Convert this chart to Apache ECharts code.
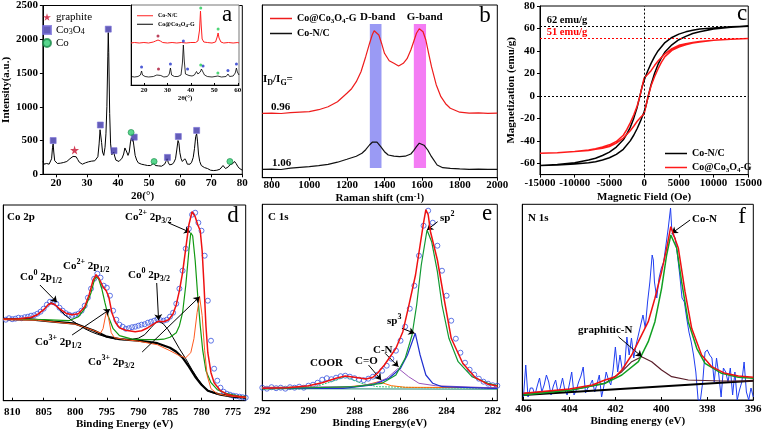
<!DOCTYPE html>
<html><head><meta charset="utf-8">
<script src="https://cdn.jsdelivr.net/npm/echarts@6/dist/echarts.min.js"></script>
<style>html,body{margin:0;padding:0;background:#fff}#c{width:765px;height:432px}</style>
</head><body><div id="c"></div>
<script>
// ---------- DATA ----------
// (a) XRD main
const xrdMain = [[15.8,190],[16.2,150],[16.6,175],[17.0,160],[17.4,185],[17.8,150],[18.2,170],[18.6,230],[18.9,400],[19.1,450],[19.3,330],[19.6,200],[20.0,180],[20.5,160],[21.0,185],[21.5,165],[22.0,190],[22.5,175],[23.0,200],[23.5,190],[24.0,215],[24.5,230],[25.0,245],[25.5,265],[26.0,285],[26.5,260],[27.0,220],[27.5,180],[28.0,160],[28.5,150],[29.0,165],[29.5,170],[30.0,175],[30.5,185],[31.0,180],[31.5,195],[32.0,190],[32.5,200],[33.0,215],[33.5,260],[33.9,450],[34.2,660],[34.4,670],[34.7,470],[35.0,330],[35.4,280],[35.8,400],[36.1,600],[36.4,1000],[36.7,1750],[36.85,2100],[37.0,1800],[37.3,900],[37.6,450],[38.0,290],[38.3,300],[38.6,330],[38.9,270],[39.3,210],[39.8,200],[40.3,190],[40.8,210],[41.3,240],[41.8,300],[42.2,390],[42.5,410],[42.8,330],[43.2,280],[43.6,330],[44.0,480],[44.3,540],[44.6,490],[44.8,520],[45.1,420],[45.5,280],[46.0,210],[46.5,170],[47.0,160],[47.5,150],[48.0,155],[48.5,140],[49.0,145],[49.5,130],[50.0,140],[50.5,130],[51.0,150],[51.5,165],[52.0,130],[52.5,120],[53.0,125],[53.5,115],[54.0,120],[54.5,140],[55.0,150],[55.4,190],[55.8,230],[56.2,170],[56.6,140],[57.0,135],[57.5,150],[58.0,180],[58.5,230],[58.9,360],[59.3,500],[59.6,460],[59.9,320],[60.3,230],[60.7,190],[61.1,180],[61.5,230],[61.9,200],[62.3,150],[62.7,140],[63.2,150],[63.7,180],[64.2,250],[64.6,380],[65.0,560],[65.3,600],[65.6,480],[65.9,300],[66.3,190],[66.8,130],[67.3,110],[67.8,100],[68.3,90],[68.8,85],[69.3,75],[69.8,60],[70.3,70],[70.8,55],[71.3,65],[71.8,60],[72.3,80],[72.8,75],[73.3,100],[73.8,130],[74.2,110],[74.6,85],[75.0,90],[75.5,110],[76.0,140],[76.5,120],[77.0,160],[77.5,190],[78.0,160],[78.5,120],[79.0,90],[79.5,70],[80.0,60]];
const markGraphite = [[26.0,360]];
const markCo3O4 = [[19.1,500],[34.3,730],[36.85,2150],[38.7,350],[45.2,550],[55.9,250],[59.4,560],[65.3,650]];
const markCo = [[44.2,620],[51.6,190],[76.0,190]];
const xrdTicksX = [20,30,40,50,60,70,80];
// (a) inset
const insetRed = [[14.5,42],[16,42.5],[18,42],[20,42.5],[22,42],[24,43],[25,44],[26,45],[27,44],[28,42.5],[30,42],[32,42.5],[34,42],[36,42.5],[38,42],[40,42.5],[42,42.5],[43,44],[43.7,55],[44.1,74],[44.4,60],[44.8,46],[45.5,43],[47,42.5],[49,42],[50.5,43],[51.2,48],[51.6,52],[52,47],[52.8,43],[54,42],[56,42.5],[58,42],[60,42.5],[60.5,42]];
const insetBlack = [[14.5,8.5],[16,8],[17.5,8.5],[18.5,10],[19,14],[19.4,10],[20.5,8.5],[22,8],[24,8.5],[25.5,10],[26.3,12],[27.2,9.5],[28.5,8],[30,8.5],[30.8,11],[31.3,17],[31.8,10],[33,8.5],[34.5,8.5],[35.8,10],[36.4,22],[36.8,40],[37.2,24],[37.7,11],[38.5,12],[39.2,9.5],[40.5,9],[41.5,10],[42.4,13.5],[43,11],[44,13],[44.5,16],[45.1,15],[45.8,10],[47,8.5],[49,8],[51.5,9],[53,8],[55,8.5],[55.8,11],[56.5,8.5],[58,9],[58.9,12],[59.4,17],[59.8,13],[60.5,10]];
const insetMarkBlue = [[19,18],[31.3,21],[36.8,44],[38.6,16],[45.2,19],[55.8,14.5],[59.4,21]];
const insetMarkRed = [[26,49],[26.2,16]];
const insetMarkGreen = [[44.2,77],[51.6,56],[44.2,20],[51.5,12]];
const insetTicksX = [20,30,40,50,60];
// (b) Raman
const ramanRed = [[750,64.4],[800,64.6],[850,64.2],[900,65],[950,65.5],[1000,66],[1050,68],[1100,71],[1150,76],[1200,84.4],[1225,89],[1250,96],[1275,106],[1300,121],[1320,134],[1335,143],[1345,147],[1355,146],[1370,142.7],[1385,134],[1400,124.4],[1425,117],[1450,114.4],[1475,111.7],[1500,114.4],[1520,119],[1540,127.7],[1555,136],[1570,144.4],[1585,149],[1595,149.4],[1605,146],[1620,137.7],[1635,124],[1650,111],[1675,93],[1700,81],[1725,74],[1750,69.4],[1800,65.5],[1850,64.5],[1900,64.8],[1950,64.4],[2000,64.6]];
const ramanBlack = [[750,8.4],[800,8.6],[850,8.2],[900,9.5],[950,10.3],[1000,11],[1050,12],[1100,13.4],[1150,15.5],[1200,18.4],[1250,21.5],[1280,24.4],[1300,28],[1320,32.7],[1335,35.5],[1345,36.7],[1360,35.5],[1380,31],[1400,26],[1420,22.7],[1450,21.5],[1480,21],[1510,21.5],[1540,23.7],[1555,27],[1570,31],[1585,34.5],[1595,35],[1610,32.5],[1630,27.7],[1650,21],[1680,12.7],[1710,10],[1750,9.4],[1800,8.8],[1850,8.4],[1900,8.6],[1950,8.3],[2000,8.4]];
const dBand = [1322,1384];
const gBand = [1556,1621];
const bandY = [9.7,153.7];
const ramanTicksX = [800,1000,1200,1400,1600,1800,2000];
// (c) magnetisation loops
const loopBlack = [[15000,62],[12500,61.5],[10000,60.5],[8000,59.5],[7000,58.5],[6000,57],[5000,55],[4000,52],[3000,47.5],[2000,40],[1500,35],[1000,29],[500,22],[0,14],[-300,8],[-600,0],[-1000,-10],[-1500,-20],[-2000,-28],[-2500,-34],[-3000,-39],[-4000,-45.5],[-5000,-50],[-6000,-53],[-7000,-55.5],[-8000,-57],[-10000,-59.5],[-12500,-61],[-15000,-62],
 [-12500,-61.5],[-10000,-60.5],[-8000,-59.5],[-7000,-58.5],[-6000,-57],[-5000,-55],[-4000,-52],[-3000,-47.5],[-2000,-40],[-1500,-35],[-1000,-29],[-500,-22],[0,-14],[300,-8],[600,0],[1000,10],[1500,20],[2000,28],[2500,34],[3000,39],[4000,45.5],[5000,50],[6000,53],[7000,55.5],[8000,57],[10000,59.5],[12500,61],[15000,62]];
const loopRed = [[15000,51],[12500,50.5],[10000,49.5],[8000,48.5],[7000,47.5],[6000,46.5],[5000,45],[4000,42],[3000,37.5],[2000,31],[1500,27],[1000,22.5],[500,19],[0,16],[-300,8],[-600,0],[-1000,-9],[-1500,-17],[-2000,-24],[-2500,-30],[-3000,-35],[-4000,-40.5],[-5000,-43.5],[-6000,-45.5],[-7000,-47],[-8000,-48],[-10000,-49.5],[-12500,-50.5],[-15000,-51],
 [-12500,-50.5],[-10000,-49.5],[-8000,-48.5],[-7000,-47.5],[-6000,-46.5],[-5000,-45],[-4000,-42],[-3000,-37.5],[-2000,-31],[-1500,-27],[-1000,-22.5],[-500,-19],[0,-16],[300,-8],[600,0],[1000,9],[1500,17],[2000,24],[2500,30],[3000,35],[4000,40.5],[5000,43.5],[6000,45.5],[7000,47],[8000,48],[10000,49.5],[12500,50.5],[15000,51]];
const msBlack = 62, msRed = 51;
const magTicksY = [-60,-40,-20,0,20,40,60,80];
// (d) Co 2p
const coData = [[811.5,82],[811,81],[810.5,82.5],[810,81.5],[809.5,82],[809,83],[808.5,82.5],[808,83.5],[807.5,84],[807,85],[806.5,85.5],[806,87],[805.5,89],[805,92],[804.5,96],[804,99],[803.5,98.5],[803,97],[802.5,93],[802,90],[801.5,87.5],[801,86],[800.5,85],[800,86],[799.5,87],[799,90],[798.5,95],[798,103],[797.5,112],[797,122],[796.5,127],[796,123],[795.5,115],[795,113],[794.5,105],[794,90],[793.5,81],[793,76],[792.5,74],[792,72],[791.5,72.5],[791,73.5],[790.5,74],[790,75],[789.5,76],[789,76.5],[788.5,78],[788,79],[787.5,80],[787,81.5],[786.5,80.5],[786,80],[785.5,81],[785,84],[784.5,88],[784,97],[783.5,112],[783,130],[782.5,152],[782,172],[781.5,186],[781,188],[780.5,178],[780,170],[779.5,145],[779,100],[778.5,60],[778,32],[777.5,20],[777,13],[776.5,9],[776,7],[775.5,6],[775,5],[774.5,4.5],[774,4],[773.5,3.5],[773,3]];
const coFit = [[811.4,81.7],[809,82],[807,83.5],[806,86],[805,91],[804.3,96],[803.8,97.5],[803.2,96],[802.5,92],[801.5,87.5],[800.5,86],[799.5,87],[798.5,94],[797.8,106],[797.2,120],[796.7,126],[796.2,122],[795.6,114],[795.1,110],[794.7,104],[794.2,88],[793.6,78],[793,73],[792,70.5],[790.5,69],[789.5,70],[788.5,73],[787.5,77],[786.8,79.5],[786,79],[785.2,81],[784.5,87],[784,96],[783.5,110],[783,128],[782.5,152],[782,176],[781.5,189],[781,184],[780.6,176],[780.2,170],[779.9,150],[779.6,115],[779.3,75],[779,48],[778.5,28],[778,18],[777,10],[776,6.5],[775,5],[773,3.5]];
const coBg = [[811.4,81.7],[806.7,81],[803.5,79],[800,77],[797,70],[795,64],[793,61.5],[790,60],[787,57.5],[785,53],[784,49],[783,43],[782,34],[781,24],[780,16],[779,10],[777,6],[775,4],[773,3]];
const co0a = [[809,81.5],[807,83],[806,86],[805,91],[804.3,96],[803.8,98],[803.2,96],[802.5,91],[801.5,85],[800.5,80],[799.5,76],[798.5,72],[797.5,69],[796.5,66.5],[795.5,64.5],[794.5,63],[793.5,61.5]];
const co0b = [[792.5,61],[791,61.5],[790,62.5],[789,66],[788,73],[787.2,78.5],[786.6,79],[786,76.5],[785.3,71],[784.5,63],[783.5,52],[782.5,42],[781.5,31],[780.5,21],[779.5,13],[778.5,8.5],[777.5,6.5]];
const co2Green = [[811.4,81.7],[805,81],[801,80],[799.5,84],[798.5,92],[797.5,108],[797,120],[796.7,124],[796.3,122],[795.8,112],[795.3,98],[794.8,85],[794,72],[793,65],[791,61.5],[789,61],[787,61],[786,61.5],[785,63.5],[784,68],[783.5,75],[783,88],[782.5,115],[782,150],[781.7,168],[781.4,165],[781,140],[780.6,105],[780.2,75],[779.8,50],[779.3,30],[778.5,18],[777.5,11],[776,7],[774,4.5],[773,4]];
const co3Orange = [[811.4,81],[806,80.5],[800,76.5],[797,70],[796,67.5],[795.6,72],[795.2,85],[795,90],[794.7,82],[794.3,68],[793.8,63],[792,61],[790,59.5],[787,56],[785,50],[783.5,45],[782.5,43],[781.7,48],[781.2,62],[780.7,88],[780.3,104],[779.9,85],[779.5,50],[779.1,25],[778.5,12],[777.5,7],[776,5],[773,3]];
const coTicksX = [775,780,785,790,795,800,805,810];
// (e) C 1s
const cData = [[292.0,13],[291.8,12],[291.6,13.5],[291.4,12.5],[291.2,13],[291.0,12],[290.8,13.5],[290.6,13],[290.4,14],[290.2,13],[290.0,15],[289.8,16],[289.6,18],[289.4,21],[289.2,22.5],[289.0,21.5],[288.8,23],[288.6,24.5],[288.4,25],[288.2,24],[288.0,22.5],[287.8,21],[287.6,20.5],[287.4,22],[287.2,24],[287.0,26],[286.8,30],[286.6,35],[286.4,42],[286.2,50],[286.0,60],[285.8,74],[285.6,92],[285.4,115],[285.2,145],[285.0,175],[284.8,190],[284.6,178],[284.4,155],[284.2,130],[284.0,105],[283.8,80],[283.6,62],[283.4,48],[283.2,38],[283.0,31],[282.8,26],[282.6,22],[282.4,19],[282.2,17],[282.0,15.5],[281.8,15]];
const cFit = [[292,12.4],[290.9,13],[290,15],[289.4,18],[288.8,22.4],[288.4,24.7],[288,23.4],[287.5,21.7],[287.2,23.4],[287,27.4],[286.7,35.7],[286.2,52.4],[285.9,69],[285.65,94],[285.35,125.7],[285.15,155.7],[285,178],[284.9,191],[284.8,186],[284.7,169],[284.4,140.7],[284.1,100.7],[283.8,62.4],[283.3,37.4],[282.75,23],[282.2,16.4],[281.8,14.7]];
const cSp2 = [[292,11.7],[288,14],[286.8,17.4],[286.2,25.7],[285.8,42.4],[285.5,65.7],[285.3,95.7],[285.1,135.7],[284.85,170.7],[284.65,159],[284.4,129],[284.2,95.7],[283.9,62.4],[283.5,39],[282.9,24],[282.2,17.4],[281.8,15]];
const cSp3 = [[292,12.4],[288.5,12.4],[287.2,15.7],[286.5,22.4],[286,32.4],[285.7,45.7],[285.36,67.4],[285.15,45.7],[284.9,25.7],[284.6,17.4],[284.2,14],[282,12.4],[281.8,12.4]];
const cCN = [[292,13],[288,14],[287.1,17.4],[286.6,22.4],[286.1,32.4],[285.65,24],[285.2,17.4],[284.5,15],[282.2,13],[281.8,13]];
const cCO = [[292,13.4],[288.5,13.4],[287.5,15.7],[286.95,19],[286.4,15],[285.8,13.4],[282,13],[281.8,13]];
const cCOOR = [[292,13],[289.7,14],[289,19],[288.4,24],[287.7,17.4],[287,14],[285,13],[281.8,12.5]];
const cBase = [[292,12],[281.8,11.5]];
const c1sTicksX = [282,284,286,288,290,292];
// (f) N 1s
const nData = [[406,3],[405.9,35],[405.8,3],[405.7,12],[405.6,12],[405.5,5],[405.4,14],[405.3,22],[405.2,8],[405.1,15],[405.0,25],[404.9,18],[404.8,5],[404.7,14],[404.6,20],[404.5,8],[404.4,12],[404.3,22],[404.2,10],[404.1,5],[404.0,16],[403.9,28],[403.8,5],[403.7,10],[403.6,18],[403.5,24],[403.4,33],[403.3,7],[403.2,12],[403.1,15],[403.0,20],[402.9,8],[402.8,16],[402.7,25],[402.6,3],[402.5,14],[402.4,28],[402.3,20],[402.2,15],[402.1,30],[402.0,53],[401.9,28],[401.8,45],[401.7,30],[401.6,33],[401.5,63],[401.4,45],[401.3,62],[401.2,42],[401.1,55],[401.0,65],[400.9,75],[400.8,85],[400.7,72],[400.6,98],[400.5,118],[400.4,145],[400.35,140],[400.3,118],[400.2,102],[400.1,122],[400.0,132],[399.9,138],[399.8,155],[399.7,172],[399.6,192],[399.55,172],[399.5,165],[399.4,162],[399.3,145],[399.2,125],[399.1,102],[399.0,98],[398.9,82],[398.8,68],[398.7,58],[398.6,45],[398.5,28],[398.4,0],[398.3,0],[398.2,18],[398.1,48],[398.0,50],[397.9,45],[397.8,42],[397.7,18],[397.6,42],[397.5,25],[397.4,3],[397.3,32],[397.2,28],[397.1,18],[397.0,32],[396.9,5],[396.8,28],[396.7,0],[396.6,10],[396.5,18],[396.4,38],[396.3,8],[396.2,0],[396.1,12],[396.0,3]];
const nFit = [[406,6.7],[404,11],[403,15],[402.45,20],[402,23.3],[401.72,30],[401.29,45],[401,58.3],[400.57,78.3],[400.28,101.7],[399.99,128.3],[399.77,151.7],[399.59,173.3],[399.26,151.7],[398.97,108.3],[398.68,71.7],[398.25,45],[397.81,33.3],[397.23,26.7],[396.65,24],[396,22.7]];
const nCoN = [[406,5],[403.9,10],[402.45,16.7],[401.72,25],[401,38.3],[400.57,58.3],[400.28,78.3],[399.99,111.7],[399.77,145],[399.59,165],[399.33,151.7],[399.12,118.3],[398.83,78.3],[398.46,51.7],[398.1,36.7],[397.38,26.7],[396.65,22.7],[396,21.7]];
const nGraphitic = [[406,6.7],[403.9,10],[402.45,16.7],[401.72,28.3],[401.29,38.3],[400.86,43.3],[400.42,38.3],[399.99,30],[399.55,23.3],[398.83,20],[397.38,19],[396,19]];
const nBase = [[406,5],[396,19.3]];
const n1sTicksX = [396,398,400,402,404,406];

// ---------- STYLE ----------
const F = '"Liberation Serif","Times New Roman",serif';
const RICH = {
  sub:{fontFamily:F,fontWeight:'bold',fontSize:8,verticalAlign:'bottom',lineHeight:8},
  sup:{fontFamily:F,fontWeight:'bold',fontSize:8,verticalAlign:'top',lineHeight:8}
};
const plain = v => String(v);
function lab(sz, extra){return Object.assign({fontFamily:F,fontWeight:'bold',fontSize:sz,color:'#000'},extra||{});}
function ax(gi, o){
  const base = {gridIndex:gi,type:'value',splitLine:{show:false},
    axisLine:{show:true,onZero:false,lineStyle:{color:'#000',width:1}},
    axisTick:{show:false},axisLabel:{show:false},
    nameLocation:'middle',nameTextStyle:lab(11,{rich:RICH})};
  return Object.assign(base,o);
}
function line(name,data,xi,color,w,extra){
  return Object.assign({name,type:'line',data,xAxisIndex:xi,yAxisIndex:xi,showSymbol:false,symbol:'none',
    lineStyle:{color,width:w},itemStyle:{color},z:3,silent:true},extra||{});
}
function arrows(list){
  return {silent:true,symbol:['none','arrow'],symbolSize:6,label:{show:false},
    lineStyle:{color:'#000',width:1,type:'solid'},
    data:list.map(p=>[{coord:p[0]},{coord:p[1]}])};
}

const grids = [
  {left:35.7,top:5,width:206.6,height:169.3},
  {left:131,top:5,width:108,height:80,backgroundColor:'#fff',borderColor:'#777'},
  {left:262.3,top:5,width:235,height:172.7},
  {left:540,top:6,width:211,height:168.6},
  {left:3.3,top:205,width:242.4,height:195.7},
  {left:262.3,top:204.3,width:235,height:196.4},
  {left:522.3,top:204.3,width:231,height:195.7}
].map(g=>Object.assign({show:true,borderColor:'#000',borderWidth:1,containLabel:false},g));

const tickOut = {show:true,length:3,inside:false,lineStyle:{color:'#000'}};
const tickIn = {show:true,length:3,inside:true,lineStyle:{color:'#000'}};

const xAxes = [
  ax(0,{min:15.8,max:80,axisTick:Object.assign({customValues:xrdTicksX},tickOut),
    axisLabel:Object.assign({show:true,margin:3,customValues:xrdTicksX,formatter:plain},lab(11)),name:'2θ(°)',nameGap:16}),
  ax(1,{min:14.5,max:60.5,axisTick:Object.assign({customValues:insetTicksX},tickIn,{length:2}),
    axisLabel:Object.assign({show:true,margin:2,customValues:insetTicksX,formatter:plain},lab(7)),name:'2θ(°)',nameGap:9,nameTextStyle:lab(7)}),
  ax(2,{min:750,max:2000,axisTick:Object.assign({customValues:ramanTicksX},tickOut),
    axisLabel:Object.assign({show:true,margin:2,customValues:ramanTicksX,formatter:plain},lab(11)),name:'Raman shift (cm{sup|-1})',nameGap:15}),
  ax(3,{min:-15000,max:15000,interval:5000,axisTick:tickOut,
    axisLabel:Object.assign({show:true,margin:3,formatter:plain},lab(11)),name:'Magnetic Field (Oe)',nameGap:17}),
  ax(4,{min:773,max:811.4,inverse:true,axisTick:Object.assign({customValues:coTicksX},tickIn),
    axisLabel:Object.assign({show:true,margin:6,customValues:coTicksX,formatter:plain},lab(11)),name:'Binding Energy (eV)',nameGap:18}),
  ax(5,{min:281.8,max:292,inverse:true,axisTick:Object.assign({customValues:c1sTicksX},tickIn),
    axisLabel:Object.assign({show:true,margin:5,customValues:c1sTicksX,formatter:plain},lab(11)),name:'Binding Energy(eV)',nameGap:15.5}),
  ax(6,{min:396,max:406.05,inverse:true,axisTick:Object.assign({customValues:n1sTicksX},tickIn),
    axisLabel:Object.assign({show:true,margin:3.5,customValues:n1sTicksX,formatter:plain},lab(11)),name:'Binding energy (eV)',nameGap:15})
];
const yAxes = [
  ax(0,{min:0,max:2500,interval:500,axisTick:tickOut,axisLabel:Object.assign({show:true,margin:5,formatter:plain},lab(11)),name:'Intensity(a.u.)',nameGap:24}),
  ax(1,{min:0,max:80}),
  ax(2,{min:0,max:172.7}),
  ax(3,{min:-70,max:80,axisTick:Object.assign({customValues:magTicksY},tickOut),
    axisLabel:Object.assign({show:true,margin:5,customValues:magTicksY,formatter:plain},lab(11)),name:'Magnetization (emu/g)',nameGap:22}),
  ax(4,{min:0,max:195.7}),
  ax(5,{min:0,max:196.4}),
  ax(6,{min:0,max:195.7})
];

const series = [
  // (a)
  line('xrd',xrdMain,0,'#000',1),
  {name:'graphite',type:'scatter',data:markGraphite,xAxisIndex:0,yAxisIndex:0,symbol:'path://M50,0 L61,35 L98,35 L68,57 L79,91 L50,70 L21,91 L32,57 L2,35 L39,35 Z',symbolSize:9,itemStyle:{color:'#c8102e'},z:4},
  {name:'Co3O4',type:'scatter',data:markCo3O4,xAxisIndex:0,yAxisIndex:0,symbol:'rect',symbolSize:6,itemStyle:{color:'#3d35a8',borderColor:'#7a72d8',borderWidth:0.8},z:4},
  {name:'Co',type:'scatter',data:markCo,xAxisIndex:0,yAxisIndex:0,symbol:'circle',symbolSize:6,itemStyle:{color:'#2ecc71',borderColor:'#1b8a4a',borderWidth:0.8},z:4},
  // inset
  line('insetRed',insetRed,1,'#ff2020',1),
  line('insetBlack',insetBlack,1,'#000',0.8),
  {name:'iB',type:'scatter',data:insetMarkBlue,xAxisIndex:1,yAxisIndex:1,symbol:'circle',symbolSize:3,itemStyle:{color:'#2233cc'},z:4},
  {name:'iR',type:'scatter',data:insetMarkRed,xAxisIndex:1,yAxisIndex:1,symbol:'circle',symbolSize:3,itemStyle:{color:'#aa1133'},z:4},
  {name:'iG',type:'scatter',data:insetMarkGreen,xAxisIndex:1,yAxisIndex:1,symbol:'circle',symbolSize:3,itemStyle:{color:'#22cc55'},z:4},
  // (b)
  line('bands',ramanBlack,2,'rgba(0,0,0,0)',0,{z:1,markArea:{silent:true,data:[
    [{xAxis:dBand[0],yAxis:bandY[0],itemStyle:{color:'rgba(120,120,240,0.75)'}},{xAxis:dBand[1],yAxis:bandY[1]}],
    [{xAxis:gBand[0],yAxis:bandY[0],itemStyle:{color:'rgba(240,80,240,0.75)'}},{xAxis:gBand[1],yAxis:bandY[1]}]]}}),
  line('Co@Co3O4-G',ramanRed,2,'#ee1c1c',1.2),
  line('Co-N/C',ramanBlack,2,'#111',1.2),
  // (c)
  line('cBlack',loopBlack,3,'#000',1.5,{markLine:{silent:true,symbol:'none',label:{show:false},lineStyle:{type:[2,2],width:1,color:'#000'},
    data:[{yAxis:msBlack},{yAxis:msRed,lineStyle:{color:'#ff0000',type:[2,2],width:1}},{yAxis:0},{xAxis:0}]}}),
  line('cRed',loopRed,3,'#ff1a1a',1.5),
  // (d)
  {name:'coData',type:'scatter',data:coData,xAxisIndex:4,yAxisIndex:4,symbol:'circle',symbolSize:5,itemStyle:{color:'rgba(0,0,0,0)',borderColor:'#3a55e0',borderWidth:1},z:2,silent:true},
  line('coBg',coBg,4,'#000',2.2),
  line('co0a',co0a,4,'#000',1),
  line('co0b',co0b,4,'#000',1),
  line('coGreen',co2Green,4,'#119911',1.2),
  line('coOrange',co3Orange,4,'#ff5a1f',1),
  line('coFit',coFit,4,'#ee1111',1.5,{z:5,markLine:arrows([
    [[785.2,177.7],[781.8,168.4]],[[805.6,115.7],[802.9,98.4]],[[800.5,65.7],[794.5,91.4]],
    [[787.1,117.7],[786.8,80.5]],[[789.4,48.7],[780.3,104]]])}),
  // (e)
  {name:'cData',type:'scatter',data:cData,xAxisIndex:5,yAxisIndex:5,symbol:'circle',symbolSize:5,itemStyle:{color:'rgba(0,0,0,0)',borderColor:'#3a55e0',borderWidth:1},z:2,silent:true},
  line('cBase',cBase,5,'#228877',1),
  line('cCOOR',cCOOR,5,'#33cc77',1,{lineStyle:{color:'#33cc77',width:1,type:[2,1]}}),
  line('cCO',cCO,5,'#ff6a00',1),
  line('cCN',cCN,5,'#9955bb',1),
  line('cSp3',cSp3,5,'#1f2fd0',1.2),
  line('cSp2',cSp2,5,'#119933',1.2),
  line('cFit',cFit,5,'#ee1111',1.5,{z:5,markLine:arrows([
    [[284.39,179],[284.85,170.7]],[[285.94,72.4],[285.39,67.4]],[[286.67,47.4],[286.09,34]],[[287.39,35.7],[286.84,20.7]]])}),
  // (f)
  line('nData',nData,6,'#1f3df0',1,{z:2}),
  line('nBase',nBase,6,'#000',2),
  line('nGraphitic',nGraphitic,6,'#5a1f2a',1.2),
  line('nCoN',nCoN,6,'#11a022',1.5),
  line('nFit',nFit,6,'#ee1111',1.5,{z:5,markLine:arrows([
    [[398.75,180],[399.55,166.7]],[[401.87,63.3],[400.85,43.3]]])})
];

const nameMap = {insetRed:'Co-N/C',insetBlack:'Co@Co{sub|3}O{sub|4}-G',cBlack:'Co-N/C',cRed:'Co@Co{sub|3}O{sub|4}-G',
  'Co@Co3O4-G':'Co@Co{sub|3}O{sub|4}-G','Co-N/C':'Co-N/C',Co3O4:'Co{sub|3}O{sub|4}',graphite:'graphite',Co:'Co'};
const fmt = n=>nameMap[n]||n;
const RICHN = {sub:{fontFamily:F,fontSize:8,verticalAlign:'bottom',lineHeight:8}};
const RICHS = {sub:{fontFamily:F,fontSize:5,fontWeight:'bold',verticalAlign:'bottom',lineHeight:5}};
const RICHL = {sub:{fontFamily:F,fontWeight:'bold',fontSize:7,verticalAlign:'bottom',lineHeight:7}};
const legends = [
  {data:['graphite','Co3O4','Co'],left:37,top:6,orient:'vertical',itemWidth:8,itemHeight:8,itemGap:1,formatter:fmt,selectedMode:false,
    textStyle:{fontFamily:F,fontSize:11,color:'#000',lineHeight:12,rich:RICHN}},
  {data:['insetRed','insetBlack'],left:132,top:7,orient:'vertical',icon:'rect',itemWidth:16,itemHeight:1,itemGap:1,formatter:fmt,selectedMode:false,
    textStyle:{fontFamily:F,fontSize:6,fontWeight:'bold',color:'#000',lineHeight:7.5,rich:RICHS}},
  {data:['Co@Co3O4-G','Co-N/C'],left:265,top:7,orient:'vertical',icon:'rect',itemWidth:22,itemHeight:1.5,itemGap:2,formatter:fmt,selectedMode:false,
    textStyle:lab(10,{lineHeight:13,rich:RICHL})},
  {data:['cBlack','cRed'],left:660,top:142,orient:'vertical',icon:'rect',itemWidth:22,itemHeight:1.5,itemGap:1,formatter:fmt,selectedMode:false,
    textStyle:lab(10,{lineHeight:13,rich:RICHL})}
];

function T(x,y,text,o){
  return {type:'text',x,y,silent:true,z:100,style:Object.assign({text,fontFamily:F,fontWeight:'bold',fontSize:11,fill:'#000',
    verticalAlign:'middle',align:'left',lineHeight:16,rich:RICH},o||{})};
}
const big = {fontWeight:'normal',fontSize:23,align:'center',lineHeight:24};
const graphics = [
  T(227,15,'a',big),T(485,16,'b',big),T(742,14,'c',big),T(233,216,'d',big),T(487,214,'e',big),T(742,217,'f',big),
  T(377.7,17,'D-band',{align:'center'}),T(424.7,17,'G-band',{align:'center'}),
  T(263,79,'I{sub|D}/I{sub|G}='),T(271,106.7,'0.96'),T(272,163.3,'1.06'),
  T(546.7,20.7,'62 emu/g',{fontSize:10.5}),T(546.7,32.3,'51 emu/g',{fill:'#ff0000',fontSize:10.5}),
  T(7,217,'Co 2p'),T(125,217,'Co{sup|2+} 2p{sub|3/2}'),T(63,266,'Co{sup|2+} 2p{sub|1/2}'),
  T(20,277,'Co{sup|0} 2p{sub|1/2}'),T(128,275,'Co{sup|0} 2p{sub|3/2}'),
  T(35,342,'Co{sup|3+} 2p{sub|1/2}'),T(88,362,'Co{sup|3+} 2p{sub|3/2}'),
  T(268,217,'C 1s'),T(440,218,'sp{sup|2}'),T(387,321,'sp{sup|3}'),T(373,350,'C-N'),T(355,361,'C=O'),T(310,363,'COOR'),
  T(528,218,'N 1s'),T(692,219,'Co-N'),T(578,330,'graphitic-N')
];

const chart = echarts.init(document.getElementById('c'),null,{renderer:'canvas'});
chart.setOption({animation:false,backgroundColor:'#fff',grid:grids,xAxis:xAxes,yAxis:yAxes,series,legend:legends,graphic:graphics});
</script></body></html>
